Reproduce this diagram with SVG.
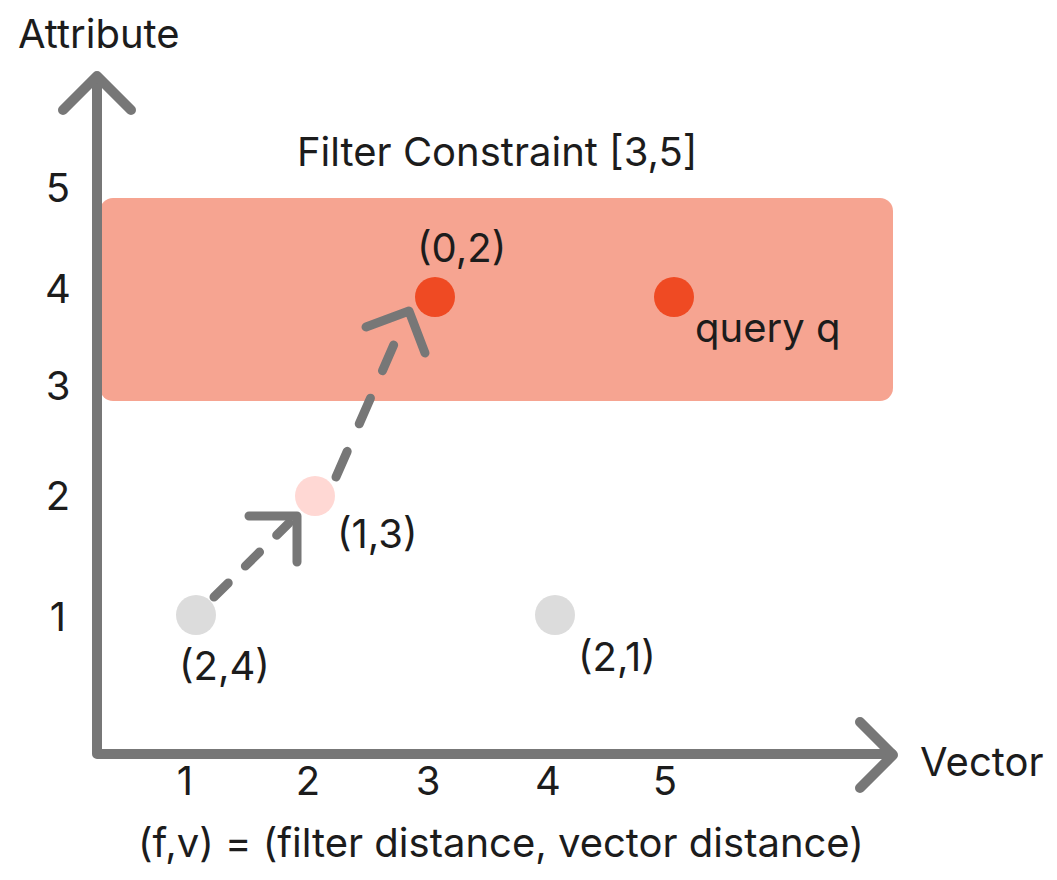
<svg xmlns="http://www.w3.org/2000/svg" width="1057" height="880" viewBox="0 0 1057 880">
<style>
text{font-family:Inter,"Noto Sans",sans-serif;fill:#1c1c1c;font-size:40px}
.ax{fill:none;stroke:#777;stroke-width:10;stroke-linecap:round;stroke-linejoin:round}
.dash{fill:none;stroke:#777;stroke-width:9;stroke-linecap:round}
.ah{fill:none;stroke:#777;stroke-width:9;stroke-linecap:round;stroke-linejoin:round}
</style>
<rect width="1057" height="880" fill="#fff"/>
<g id="filter-band">
<rect x="100" y="198" width="793" height="203" rx="13" fill="#F6A491"/>
<text x="297" y="166">Filter Constraint [3,5]</text>
</g>
<g id="axes">
<path class="ax" d="M97 78 V754 H892"/>
<path class="ax" d="M63 110 L97 76 L131 110"/>
<path class="ax" d="M860 722 L893 755 L860 788"/>
<text x="18" y="48">Attribute</text>
<text x="920" y="776">Vector</text>
</g>
<g id="ticks" text-anchor="middle">
<text x="58" y="202">5</text>
<text x="58" y="303">4</text>
<text x="58" y="400">3</text>
<text x="58" y="510">2</text>
<text x="58" y="631">1</text>
<text x="185" y="795">1</text>
<text x="308" y="795">2</text>
<text x="428" y="795">3</text>
<text x="548" y="795">4</text>
<text x="665" y="795">5</text>
</g>
<g id="connectors">
<path class="dash" stroke-dasharray="20 24" d="M214 597 L289 523"/>
<path class="ah" d="M249 516 L297 516 L297 562"/>
<path class="dash" stroke-dasharray="28 30" d="M336 477 L402 326"/>
<path class="ah" d="M366 327 L409 311 L425 353"/>
</g>
<g id="p24"><circle cx="196" cy="615" r="20" fill="#DCDCDC"/><text x="179" y="680">(2,4)</text></g>
<g id="p21"><circle cx="555" cy="615" r="20" fill="#DCDCDC"/><text x="578" y="671">(2,1)</text></g>
<g id="p13"><circle cx="315" cy="496" r="20" fill="#FFD8D4"/><text x="337" y="548">(1,3)</text></g>
<g id="p02"><circle cx="435" cy="297" r="20" fill="#EF4A23"/><text x="417" y="262">(0,2)</text></g>
<g id="query"><circle cx="674" cy="297" r="20" fill="#EF4A23"/><text x="695" y="342">query q</text></g>
<text x="138" y="857">(f,v) = (filter distance, vector distance)</text>
</svg>
